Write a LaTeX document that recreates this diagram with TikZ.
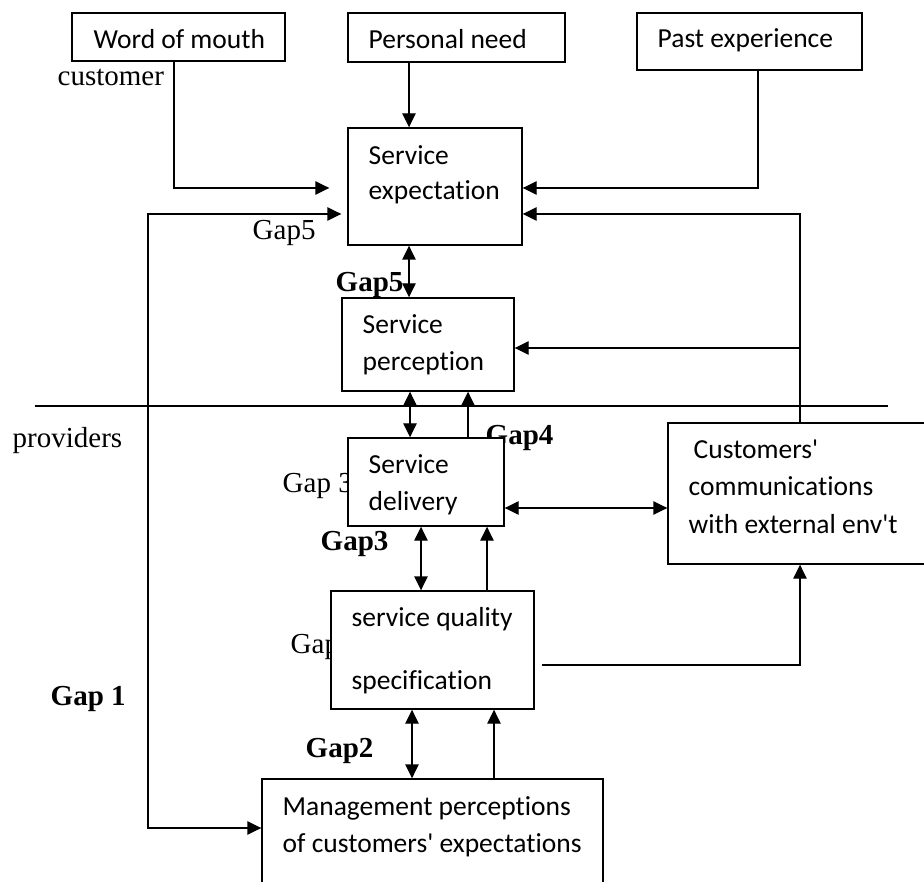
\documentclass[tikz,border=0pt]{standalone}
\usepackage{fontspec}
\setmainfont{Liberation Serif}
\newfontfamily\calf{Carlito}[Ligatures={TeXOff,NoCommon}]
\usetikzlibrary{arrows.meta}
\begin{document}
\begin{tikzpicture}[x=1pt,y=-1pt,line width=1.4pt,
  box/.style={draw,fill=white,inner sep=0pt},
  txt/.style={anchor=base west,inner sep=0pt,font=\calf\fontsize{27.5}{33}\selectfont},
  lab/.style={anchor=base west,inner sep=0pt,font=\fontsize{29}{34}\selectfont},
  blab/.style={lab,font=\fontsize{29}{34}\selectfont\bfseries},
  arr/.style={-{Triangle[length=14pt,width=13.5pt]}},
  arrboth/.style={{Triangle[length=14pt,width=13.5pt]}-{Triangle[length=14pt,width=13.5pt]}}]
\clip (0,0) rectangle (924,882);
\fill[white] (0,0) rectangle (924,882);
% labels partly hidden behind boxes
\node[blab] (lgap4) at (485,445) {Gap4};
\node[lab] (lgap3n) at (282,493) {Gap 3};
\node[lab] (lgap2n) at (290,653) {Gap 2};
% boxes
\node[box,minimum width=213pt,minimum height=48pt] (wom) at (178.5,37) {};
\node[box,minimum width=217pt,minimum height=49pt] (pn) at (456.5,37.5) {};
\node[box,minimum width=225pt,minimum height=57pt] (pe) at (749.5,41.5) {};
\node[box,minimum width=174pt,minimum height=117pt] (sexp) at (435,186.5) {};
\node[box,minimum width=172pt,minimum height=93pt] (sper) at (428,344.5) {};
\node[box,minimum width=156pt,minimum height=88pt] (sdel) at (426,482) {};
\node[box,minimum width=272pt,minimum height=141pt] (cce) at (804,493.5) {};
\node[box,minimum width=203pt,minimum height=118pt] (sqs) at (432.5,650) {};
\node[box,minimum width=341pt,minimum height=121pt] (mpc) at (432.5,839.5) {};
% box texts
\node[txt] (t1) at (93,49) {Word of mouth};
\node[txt] (t2) at (368,49) {Personal need};
\node[txt] (t3) at (657,48) {Past experience};
\node[txt] (t4a) at (368,165) {Service};
\node[txt] (t4b) at (368,200) {expectation};
\node[txt] (t5a) at (362,334) {Service};
\node[txt] (t5b) at (362,371) {perception};
\node[txt] (t6a) at (368,473) {Service};
\node[txt] (t6b) at (368,510) {delivery};
\node[txt] (t7a) at (693,458) {Customers'};
\node[txt] (t7b) at (688,496) {communications};
\node[txt] (t7c) at (688,533) {with external env't};
\node[txt] (t8a) at (351,626) {service quality};
\node[txt] (t8b) at (351,689) {specification};
\node[txt] (t9a) at (282,815) {Management perceptions};
\node[txt] (t9b) at (282,852) {of customers' expectations};
% other labels
\node[lab] (lcust) at (57,86) {customer};
\node[lab] (lgap5n) at (252,240) {Gap5};
\node[blab] (lgap5b) at (335,292) {Gap5};
\node[lab] (lprov) at (12,448) {providers};
\node[blab] (lgap3b) at (320,550) {Gap3};
\node[blab] (lgap1) at (50,705) {Gap 1};
\node[blab] (lgap2b) at (305,757) {Gap2};
% divider
\coordinate (dl) at (35,406);
\coordinate (dr) at (888,406);
\draw[line width=1.3pt] (dl) -- (dr);
% connectors
\draw[arr,shorten >=18pt] (wom.south -| 174,0) |- (sexp.west |- 0,188);
\draw[arr] (pn.south -| 409,0) -- (sexp.north -| 409,0);
\draw[arr] (pe.south -| 758,0) |- (sexp.east |- 0,188);
\draw[arr] (cce.north -| 800,0) |- (sexp.east |- 0,214);
\coordinate (jn) at (800,348);
\draw[arr] (jn) -- (sper.east |- jn);
\coordinate (g1c) at (148,828);
\draw[arrboth,shorten <=6pt] (sexp.west |- 0,214) -| (g1c) -- (mpc.west |- g1c);
\draw[arrboth] (sexp.south -| 409,0) -- (sper.north -| 409,0);
\draw[arrboth] (sper.south -| 410,0) -- (sdel.north -| 410,0);
\draw[arr] (sdel.north -| 468,0) -- (sper.south -| 468,0);
\draw[arrboth] (sdel.east |- 0,508) -- (cce.west |- 0,508);
\draw[arrboth] (sdel.south -| 421,0) -- (sqs.north -| 421,0);
\draw[arr] (sqs.north -| 487,0) -- (sdel.south -| 487,0);
\draw[arrboth] (sqs.south -| 412,0) -- (mpc.north -| 412,0);
\draw[arr] (mpc.north -| 494,0) -- (sqs.south -| 494,0);
\draw[arr,shorten <=7pt] (sqs.east |- 0,665) -| (cce.south -| 800,0);
\end{tikzpicture}
\end{document}
